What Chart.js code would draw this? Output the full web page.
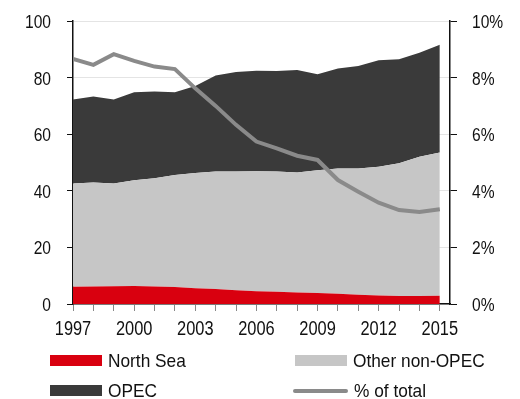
<!DOCTYPE html>
<html>
<head>
<meta charset="utf-8">
<script src="https://cdn.jsdelivr.net/npm/chart.js@4.4.1/dist/chart.umd.min.js"></script>
<style>
    html, body { margin: 0; padding: 0; background: #fff; }
    #wrap { position: relative; width: 520px; height: 399px; }
    #legend { position: absolute; left: 50px; top: 349px; width: 470px;
        display: grid; grid-template-columns: 245px 225px; row-gap: 7px;
        font: 19px "Liberation Sans", Arial, sans-serif; color: #111; }
    .item { display: flex; align-items: center; height: 23px; white-space: nowrap; }
    .item span.txt { display: inline-block; transform: scaleX(0.91); transform-origin: left center; }
    .swatch { width: 52px; height: 11px; margin-right: 6px; }
    .swatch.line { height: 4px; border-radius: 2px; margin-left: -2px; margin-right: 6px; width: 55px; }
</style>
</head>
<body>
<div id="wrap">
    <canvas id="supplyChart" width="520" height="399"></canvas>
    <div id="legend"></div>
</div>
<script>
const years = [1997, 1998, 1999, 2000, 2001, 2002, 2003, 2004, 2005, 2006,
               2007, 2008, 2009, 2010, 2011, 2012, 2013, 2014, 2015];
// mb/d
const northSea = [6.1, 6.2, 6.3, 6.4, 6.2, 6.0, 5.6, 5.3, 4.9, 4.5,
                  4.3, 4.1, 3.9, 3.6, 3.3, 3.0, 2.8, 2.8, 2.9];
const otherNonOpec = [36.5, 36.7, 36.3, 37.3, 38.2, 39.6, 40.7, 41.5, 41.9, 42.4,
                      42.5, 42.4, 43.4, 44.3, 44.6, 45.5, 46.9, 49.2, 50.6];
const opec = [29.7, 30.4, 29.7, 31.1, 30.7, 29.2, 30.7, 33.9, 35.2, 35.5,
              35.5, 36.2, 33.9, 35.3, 36.2, 37.6, 36.8, 36.8, 38.1];
// North Sea share of total, %
const shareOfTotal = [8.66, 8.45, 8.83, 8.59, 8.39, 8.30, 7.62, 7.00, 6.33, 5.74,
                      5.50, 5.24, 5.09, 4.38, 3.97, 3.58, 3.32, 3.25, 3.35];

const leftTicks = [0, 20, 40, 60, 80, 100];
const rightTicks = [0, 2, 4, 6, 8, 10];
const yearLabels = ['1997', '2000', '2003', '2006', '2009', '2012', '2015'];

const pts = arr => arr.map((v, i) => ({ x: years[i], y: v }));
const FONT = '"Liberation Sans", Arial, sans-serif';
const SQUEEZE = 0.82; // narrow lettering

// tick labels drawn in a condensed face at scale positions
const narrowLabels = {
    id: 'narrowLabels',
    afterDraw(chart) {
        const c = chart.ctx;
        const { x, y, y1 } = chart.scales;
        const put = (text, px, py, align, size) => {
            c.save();
            c.font = size + 'px ' + FONT;
            c.fillStyle = '#111';
            c.textAlign = align;
            c.textBaseline = 'alphabetic';
            c.translate(px, py);
            c.scale(SQUEEZE, 1);
            c.fillText(text, 0, 0);
            c.restore();
        };
        leftTicks.forEach(v => put(String(v), y.left + y.width - 22, y.getPixelForValue(v) + 7, 'right', 19));
        rightTicks.forEach(v => put(v + '%', y1.left + 22, y1.getPixelForValue(v) + 7, 'left', 19));
        yearLabels.forEach(t => put(t, x.getPixelForValue(Number(t)), x.top + 31, 'center', 20));
    }
};

const ctx = document.getElementById('supplyChart').getContext('2d');
const chart = new Chart(ctx, {
    type: 'line',
    data: {
        datasets: [{
            label: 'North Sea',
            data: pts(northSea),
            backgroundColor: '#d9000f',
            borderWidth: 0,
            fill: 'origin',
            pointRadius: 0,
            yAxisID: 'y',
            order: 1
        }, {
            label: 'Other non-OPEC',
            data: pts(otherNonOpec),
            backgroundColor: '#c6c6c6',
            borderWidth: 0,
            fill: '-1',
            pointRadius: 0,
            yAxisID: 'y',
            order: 1
        }, {
            label: 'OPEC',
            data: pts(opec),
            backgroundColor: '#3a3a3a',
            borderWidth: 0,
            fill: '-1',
            pointRadius: 0,
            yAxisID: 'y',
            order: 1
        }, {
            label: '% of total',
            data: pts(shareOfTotal),
            borderColor: '#8a8a8a',
            borderWidth: 4,
            fill: false,
            pointRadius: 0,
            yAxisID: 'y1',
            order: 0
        }]
    },
    options: {
        responsive: false,
        animation: false,
        layout: { padding: { top: 21, bottom: 57, left: 0, right: 0 } },
        plugins: { legend: { display: false }, tooltip: { enabled: false } },
        scales: {
            x: {
                type: 'linear',
                min: 1997,
                max: 2015.5,
                afterBuildTicks: s => { s.ticks = years.map(v => ({ value: v })); },
                afterFit: s => { s.height = 38; },
                ticks: { display: false },
                grid: { drawOnChartArea: false, tickLength: 7, tickColor: '#888' },
                border: { color: '#111', width: 1.5 }
            },
            y: {
                stacked: true,
                min: 0,
                max: 100,
                afterBuildTicks: s => { s.ticks = leftTicks.map(v => ({ value: v })); },
                afterFit: s => { s.width = 73; },
                ticks: { display: false },
                grid: { color: '#e4e4e4', tickLength: 6, tickColor: '#111' },
                border: { color: '#111', width: 1.5 }
            },
            y1: {
                position: 'right',
                min: 0,
                max: 10,
                afterBuildTicks: s => { s.ticks = rightTicks.map(v => ({ value: v })); },
                afterFit: s => { s.width = 70; },
                ticks: { display: false },
                grid: { drawOnChartArea: false, tickLength: 7, tickColor: '#111' },
                border: { color: '#111', width: 1.5 }
            }
        }
    },
    plugins: [narrowLabels]
});

// Legend in two columns, built from the datasets
const legendEl = document.getElementById('legend');
chart.data.datasets.forEach(ds => {
    const item = document.createElement('div');
    item.className = 'item';
    const sw = document.createElement('span');
    sw.className = 'swatch' + (ds.fill === false ? ' line' : '');
    sw.style.background = ds.fill === false ? ds.borderColor : ds.backgroundColor;
    const txt = document.createElement('span');
    txt.className = 'txt';
    txt.textContent = ds.label;
    item.appendChild(sw);
    item.appendChild(txt);
    legendEl.appendChild(item);
});
</script>
</body>
</html>
